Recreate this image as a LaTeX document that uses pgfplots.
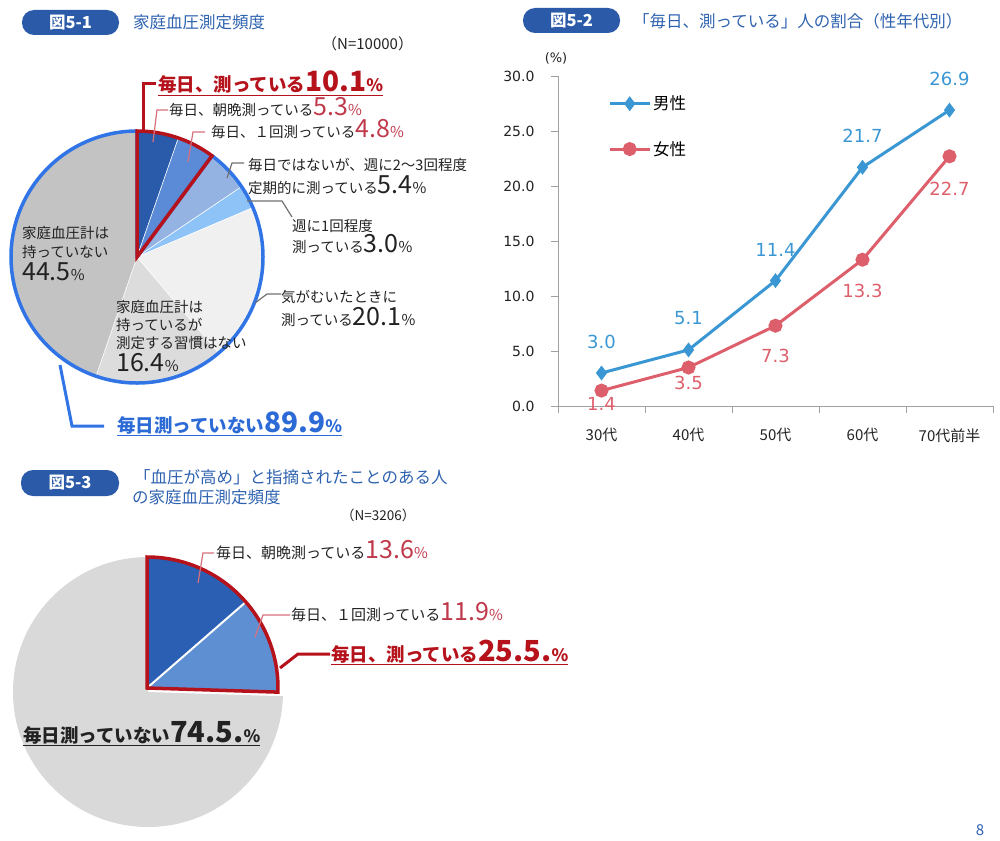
\documentclass[border=0pt]{standalone}
\usepackage{pgfplots}
\pgfplotsset{compat=1.18}
\usepackage{pgfplotstable}
\usepackage{fontspec}
\setmainfont{Noto Sans CJK JP}
\newfontfamily\dv{DejaVu Sans}
\newcommand\fs[1]{\fontsize{#1}{#1}\selectfont}
\definecolor{boxblue}{HTML}{2B5BA8}
\definecolor{titleblue}{HTML}{2E62B0}
\definecolor{redmain}{HTML}{B5121B}
\definecolor{numred}{HTML}{C0394B}
\definecolor{leadpink}{HTML}{D8707C}
\definecolor{leadgray}{HTML}{707070}
\definecolor{ringblue}{HTML}{3174E6}
\definecolor{textblue}{HTML}{2C6AD6}
\definecolor{txt}{HTML}{222222}
\definecolor{sA}{HTML}{2A5BAA}
\definecolor{sB}{HTML}{5B8BD6}
\definecolor{sC}{HTML}{94B3E2}
\definecolor{sD}{HTML}{8DC3F7}
\definecolor{sE}{HTML}{F0F0F0}
\definecolor{sF}{HTML}{DCDCDC}
\definecolor{sG}{HTML}{C3C3C3}
\definecolor{tA}{HTML}{2A5FB3}
\definecolor{tB}{HTML}{5F8FD3}
\definecolor{tC}{HTML}{D9D9D9}
\definecolor{male}{HTML}{3A97D3}
\definecolor{female}{HTML}{DE5F6C}
\definecolor{axisgray}{HTML}{A0A0A0}

\newcommand\num[1]{{\color{numred}\fs{25}#1\fs{15}\%}}
\newcommand\bnum[1]{{\fs{25}#1\fs{15}\%}}

\pgfplotstableread{
x y lab off
0 3.0 3.0 31
1 5.1 5.1 32
2 11.4 11.4 31
3 21.7 21.7 31
4 26.9 26.9 31
}\maletab
\pgfplotstableread{
x y lab off
0 1.4 1.4 -13
1 3.5 3.5 -15
2 7.3 7.3 -30
3 13.3 13.3 -31
4 22.7 22.7 -33
}\femaletab

\begin{document}
\begin{tikzpicture}[x=1pt,y=1pt]
\path[use as bounding box] (0,0) rectangle (1000,-840);

% ---------------- headers ----------------
\fill[boxblue, rounded corners=12pt] (22,-10) rectangle (119,-35);
\node[text=white, font=\bfseries\fs{16.5}] at (70.5,-22.5) {図5-1};
\node[anchor=base west, inner sep=0, text=titleblue, font=\fs{16.5}] at (133,-28.3) {家庭血圧測定頻度};
\node[anchor=base west, inner sep=0, text=txt, font=\fs{15}] at (322,-49.5) {（N=10000）};

\fill[boxblue, rounded corners=12pt] (523,-8) rectangle (620,-33);
\node[text=white, font=\bfseries\fs{16.5}] at (571.5,-20.5) {図5-2};
\node[anchor=base west, inner sep=0, text=titleblue, font=\fs{16.5}] at (633,-27.3) {「毎日、測っている」人の割合（性年代別）};

\fill[boxblue, rounded corners=12pt] (21,-470) rectangle (119,-496);
\node[text=white, font=\bfseries\fs{16.5}] at (70,-483) {図5-3};
\node[anchor=base west, inner sep=0, text=titleblue, font=\fs{16.5}] at (134,-483.3) {「血圧が高め」と指摘されたことのある人};
\node[anchor=base west, inner sep=0, text=titleblue, font=\fs{16.5}] at (132,-503.3) {の家庭血圧測定頻度};
\node[anchor=base west, inner sep=0, text=txt, font=\fs{13.5}] at (341,-520) {（N=3206）};

\node[anchor=base, inner sep=0, text=titleblue, font=\fs{15}] at (980,-835) {8};

% ---------------- pie 1 angles ----------------
\pgfmathsetmacro\k{360/99.5}
\pgfmathsetmacro\pa{90-5.3*\k}
\pgfmathsetmacro\pb{\pa-4.8*\k}
\pgfmathsetmacro\pc{\pb-5.4*\k}
\pgfmathsetmacro\pd{\pc-3.0*\k}
\pgfmathsetmacro\pe{\pd-20.1*\k}
\pgfmathsetmacro\pf{\pe-16.4*\k}
\pgfmathsetmacro\pg{\pf-44.5*\k}

\begin{axis}[hide axis, x=1pt, y=1pt, xmin=-128, xmax=128, ymin=-126, ymax=126,
  at={(137pt,-257pt)}, anchor=origin, clip=false]
\fill[sA, draw=white, line width=0.5pt] (axis cs:0,0) -- ++(90:126pt) arc[start angle=90, end angle=\pa, radius=126pt] -- cycle;
\fill[sB, draw=white, line width=0.5pt] (axis cs:0,0) -- ++(\pa:126pt) arc[start angle=\pa, end angle=\pb, radius=126pt] -- cycle;
\fill[sC, draw=white, line width=0.5pt] (axis cs:0,0) -- ++(\pb:126pt) arc[start angle=\pb, end angle=\pc, radius=126pt] -- cycle;
\fill[sD, draw=white, line width=0.5pt] (axis cs:0,0) -- ++(\pc:126pt) arc[start angle=\pc, end angle=\pd, radius=126pt] -- cycle;
\fill[sE, draw=white, line width=0.5pt] (axis cs:0,0) -- ++(\pd:126pt) arc[start angle=\pd, end angle=\pe, radius=126pt] -- cycle;
\fill[sF, draw=white, line width=0.5pt] (axis cs:0,0) -- ++(\pe:126pt) arc[start angle=\pe, end angle=\pf, radius=126pt] -- cycle;
\fill[sG, draw=white, line width=0.5pt] (axis cs:0,0) -- ++(\pf:126pt) arc[start angle=\pf, end angle=\pg, radius=126pt] -- cycle;
\draw[ringblue, line width=3.5pt, line join=round] (axis cs:0,0) -- ++(\pb:126pt) arc[start angle=\pb, end angle=-270, radius=126pt] -- cycle;
\draw[redmain, line width=3.5pt, line join=miter] (axis cs:0,0) -- ++(90:126pt) arc[start angle=90, end angle=\pb, radius=126pt] -- cycle;
\end{axis}

% pie 1 leader lines
\draw[redmain, line width=3pt] (143,-133) -- (143,-84) -- (156,-84);
\draw[leadpink, line width=1.2pt] (153,-142) -- (157,-110) -- (168,-110);
\draw[leadpink, line width=1.2pt] (188,-162) -- (193,-132) -- (205,-132);
\draw[leadgray, line width=1.2pt] (227,-178) -- (232,-163) -- (244,-163);
\draw[leadgray, line width=1.2pt] (247,-201) -- (282,-201) -- (292,-217);
\draw[leadgray, line width=1.2pt] (255,-303) -- (267,-294) -- (281,-294);
\draw[ringblue, line width=3pt] (60,-365) -- (72,-426) -- (104,-426);

% pie 1 labels
\node[anchor=base west, inner sep=0, font=\bfseries, text=redmain] at (158,-92) {\underline{\fs{18.5}毎日、測っている\fs{28}10.1\fs{17}\%}};
\node[anchor=base west, inner sep=0, font=\fs{14.5}, text=txt] at (169,-115.5) {毎日、朝晩測っている\num{5.3}};
\node[anchor=base west, inner sep=0, font=\fs{14.5}, text=txt] at (211,-137.5) {毎日、１回測っている\num{4.8}};
\node[anchor=base west, inner sep=0, font=\fs{14.5}, text=txt] at (248,-170.5) {毎日ではないが、週に2～3回程度};
\node[anchor=base west, inner sep=0, font=\fs{14.5}, text=txt] at (248,-193.5) {定期的に測っている\bnum{5.4}};
\node[anchor=base west, inner sep=0, font=\fs{14.5}, text=txt] at (292,-231) {週に1回程度};
\node[anchor=base west, inner sep=0, font=\fs{14.5}, text=txt] at (292,-252.5) {測っている\bnum{3.0}};
\node[anchor=base west, inner sep=0, font=\fs{14.5}, text=txt] at (281,-302.5) {気がむいたときに};
\node[anchor=base west, inner sep=0, font=\fs{14.5}, text=txt] at (281,-325.5) {測っている\bnum{20.1}};
\node[anchor=base west, inner sep=0, font=\fs{14.5}, text=txt] at (22,-238.5) {家庭血圧計は};
\node[anchor=base west, inner sep=0, font=\fs{14.5}, text=txt] at (22,-257.5) {持っていない};
\node[anchor=base west, inner sep=0, font=\fs{14.5}, text=txt] at (22,-280.5) {\bnum{44.5}};
\node[anchor=base west, inner sep=0, font=\fs{14.5}, text=txt] at (116,-312.5) {家庭血圧計は};
\node[anchor=base west, inner sep=0, font=\fs{14.5}, text=txt] at (116,-330.5) {持っているが};
\node[anchor=base west, inner sep=0, font=\fs{14.5}, text=txt] at (116,-348.5) {測定する習慣はない};
\node[anchor=base west, inner sep=0, font=\fs{14.5}, text=txt] at (116,-371.5) {\bnum{16.4}};
\node[anchor=base west, inner sep=0, font=\bfseries, text=textblue] at (117,-432) {\underline{\fs{18.5}毎日測っていない\fs{28}89.9\fs{17}\%}};

% ---------------- pie 3 ----------------
\pgfmathsetmacro\qa{90-13.6*3.6}
\pgfmathsetmacro\qb{\qa-11.9*3.6}
\pgfmathsetmacro\qc{\qb-74.5*3.6}
\begin{axis}[hide axis, x=1pt, y=1pt, xmin=-136, xmax=136, ymin=-135, ymax=135,
  at={(148pt,-692pt)}, anchor=origin, clip=false]
\fill[tC] (axis cs:0,0) -- ++(\qb:135pt) arc[start angle=\qb, end angle=\qc, radius=135pt] -- cycle;
\fill[tA] (axis cs:-1,4) -- ++(90:131pt) arc[start angle=90, end angle=\qa, radius=131pt] -- cycle;
\fill[tB] (axis cs:-1,4) -- ++(\qa:131pt) arc[start angle=\qa, end angle=\qb, radius=131pt] -- cycle;
\draw[white, line width=2pt] (axis cs:-1,4) -- ++(\qa:131pt);
\draw[redmain, line width=3.5pt, line join=miter] (axis cs:-1,4) -- ++(90:131pt) arc[start angle=90, end angle=\qb, radius=131pt] -- cycle;
\end{axis}

\draw[leadpink, line width=1.2pt] (198,-583) -- (203,-553) -- (214,-553);
\draw[leadpink, line width=1.2pt] (255,-637) -- (263,-615) -- (290,-615);
\draw[redmain, line width=3pt] (280,-668) -- (298,-654) -- (330,-654);

\node[anchor=base west, inner sep=0, font=\fs{15}, text=txt] at (216,-558.7) {毎日、朝晩測っている\num{13.6}};
\node[anchor=base west, inner sep=0, font=\fs{15}, text=txt] at (291,-620.7) {毎日、１回測っている\num{11.9}};
\node[anchor=base west, inner sep=0, font=\bfseries, text=redmain] at (331,-661) {\underline{\fs{18.5}毎日、測っている\fs{29}25.5.\fs{17}\%}};
\node[anchor=base west, inner sep=0, font=\bfseries, text=txt] at (23,-742) {\underline{\fs{18.5}毎日測っていない\fs{29}74.5.\fs{17}\%}};

% ---------------- line chart ----------------
\node[text=txt, font=\dv\fs{13}] at (556,-58) {(\%)};
\begin{axis}[
  at={(558pt,-406pt)}, anchor=south west, scale only axis, width=435pt, height=330pt,
  xmin=-0.5, xmax=4.5, ymin=0, ymax=30,
  axis x line*=bottom, axis y line*=left,
  axis line style={draw=axisgray, line width=1pt, -},
  xtick={-0.5,0.5,1.5,2.5,3.5,4.5},
  xticklabels={30代,40代,50代,60代,70代前半},
  x tick label as interval,
  x tick label style={font=\fs{15}, text=txt, yshift=-12pt},
  ytick={0,5,10,15,20,25,30},
  tick align=outside, major tick length=7pt,
  tick style={draw=axisgray, line width=1pt},
  y tick label style={font=\dv\fs{14}, text=txt, xshift=-13pt},
  yticklabel={\pgfmathprintnumber[fixed,fixed zerofill,precision=1,assume math mode=true]{\tick}},
  clip=false,
  legend style={at={(0.115,0.946)}, anchor=north west, draw=none, fill=none,
    font=\fs{16.5}, row sep=26pt, inner sep=0pt, legend cell align=left},
  legend image code/.code={\draw[#1,mark repeat=2,mark phase=2] plot coordinates {(0pt,0pt) (20pt,0pt) (40pt,0pt)};},
]
\addplot[color=male, line width=3pt, mark=diamond*, mark size=5pt, mark options={solid},
  nodes near coords, point meta=explicit symbolic,
  visualization depends on={\thisrow{off} \as \off},
  every node near coord/.append style={anchor=center, yshift=\off pt, font=\dv\fs{18}, text=male}]
  table[x=x, y=y, meta=lab]{\maletab};
\addlegendentry{男性}
\addplot[color=female, line width=3pt, mark=*, mark size=5.5pt, mark options={solid},
  nodes near coords, point meta=explicit symbolic,
  visualization depends on={\thisrow{off} \as \off},
  every node near coord/.append style={anchor=center, yshift=\off pt, font=\dv\fs{18}, text=female}]
  table[x=x, y=y, meta=lab]{\femaletab};
\addlegendentry{女性}
\end{axis}
\end{tikzpicture}
\end{document}
